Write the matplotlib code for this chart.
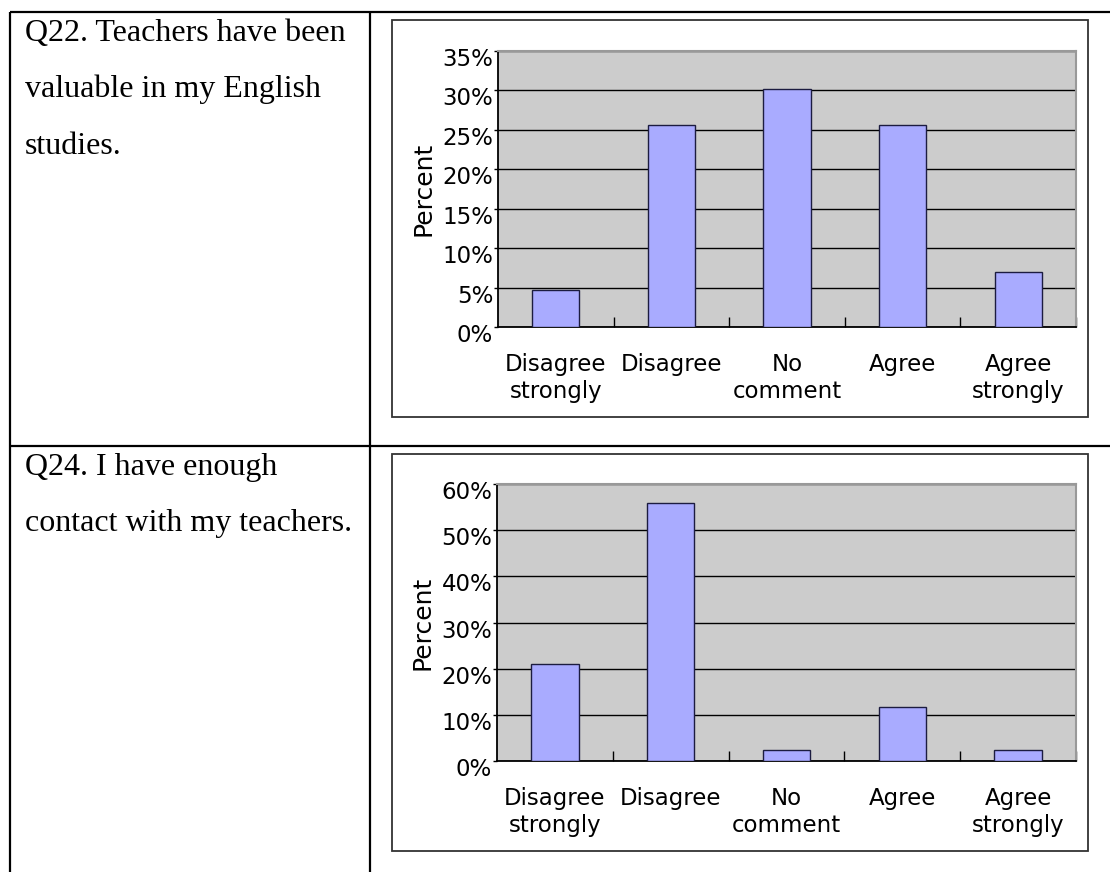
import matplotlib.pyplot as plt
import matplotlib.transforms as mtransforms
from matplotlib.lines import Line2D
from matplotlib.patches import Rectangle
import numpy as np

W, H = 1110, 872

categories = ['Disagree\nstrongly', 'Disagree', 'No\ncomment', 'Agree', 'Agree\nstrongly']
q22_values = [4.65, 25.58, 30.23, 25.58, 6.98]
q24_values = [20.93, 55.81, 2.33, 11.63, 2.33]
q22_text = ['Q22. Teachers have been', 'valuable in my English', 'studies.']
q24_text = ['Q24. I have enough', 'contact with my teachers.']
q22_ticks = [0, 5, 10, 15, 20, 25, 30, 35]
q24_ticks = [0, 10, 20, 30, 40, 50, 60]

BAR_COLOR = '#a9abff'
PLOT_BG = '#cccccc'


def px_rect(x0, y0, x1, y1):
    # pixel box (top-left origin) -> figure fraction [left, bottom, width, height]
    return [x0 / W, 1 - y1 / H, (x1 - x0) / W, (y1 - y0) / H]


def fig_line(fig, x0, y0, x1, y1, lw=1.5, color='black'):
    fig.add_artist(Line2D([x0 / W, x1 / W], [1 - y0 / H, 1 - y1 / H],
                          transform=fig.transFigure, color=color, lw=lw,
                          solid_capstyle='butt'))


def chart(fig, box, area, values, yticks):
    x0, y0, x1, y1 = box
    fig.add_artist(Rectangle((x0 / W, 1 - y1 / H), (x1 - x0) / W, (y1 - y0) / H,
                             transform=fig.transFigure, fill=False,
                             edgecolor='#333333', lw=1.3))
    ax = fig.add_axes(px_rect(*area))
    ax.set_facecolor(PLOT_BG)
    x = np.arange(len(values))
    ax.bar(x, values, width=0.41, color=BAR_COLOR, edgecolor='#1c1c40',
           linewidth=1.0, zorder=3)
    ax.set_xlim(-0.5, len(values) - 0.5)
    ax.set_ylim(0, yticks[-1])

    ax.set_yticks(yticks)
    ax.set_yticklabels(['%d%%' % t for t in yticks])
    ax.yaxis.grid(True, color='black', lw=1.0, zorder=1)
    ax.set_axisbelow(True)
    ax.tick_params(axis='y', direction='out', length=3, width=1, pad=0.5,
                   labelsize=16.5)
    offset = mtransforms.ScaledTranslation(0, -0.06, fig.dpi_scale_trans)
    for lab in ax.get_yticklabels():
        lab.set_transform(lab.get_transform() + offset)

    ax.set_xticks(x + 0.5)
    ax.set_xticklabels([])
    ax.tick_params(axis='x', which='major', direction='in', length=7, width=1)
    ax.set_xticks(x, categories, minor=True)
    ax.tick_params(axis='x', which='minor', length=0, pad=19, labelsize=16.5)
    for lab in ax.get_xticklabels(minor=True):
        lab.set_linespacing(1.22)

    for side in ['left', 'bottom']:
        ax.spines[side].set_color('black')
        ax.spines[side].set_linewidth(1.3)
    for side in ['top', 'right']:
        ax.spines[side].set_color('#999999')
        ax.spines[side].set_linewidth(1.5)

    ax.set_ylabel('Percent', fontsize=18)
    ax.yaxis.set_label_coords(-0.108, 0.5)
    return ax


fig = plt.figure(figsize=(W / 100, H / 100), dpi=100)

# table frame
fig_line(fig, 10, 12, W, 12, lw=1.6)
fig_line(fig, 10, 446, W, 446, lw=1.6)
fig_line(fig, 10, 12, 10, H, lw=1.6)
fig_line(fig, 370, 12, 370, H, lw=1.6)

for i, line in enumerate(q22_text):
    fig.text(25 / W, 1 - (41 + 56.3 * i) / H, line, va='baseline', ha='left',
             fontsize=23, family='Liberation Serif')
for i, line in enumerate(q24_text):
    fig.text(25 / W, 1 - (475 + 56.3 * i) / H, line, va='baseline', ha='left',
             fontsize=23, family='Liberation Serif')

chart(fig, (392, 20, 1088, 417), (498, 51, 1076, 327), q22_values, q22_ticks)
chart(fig, (392, 454, 1088, 851), (497, 484, 1076, 761), q24_values, q24_ticks)

fig.savefig('out.png', dpi=100)
